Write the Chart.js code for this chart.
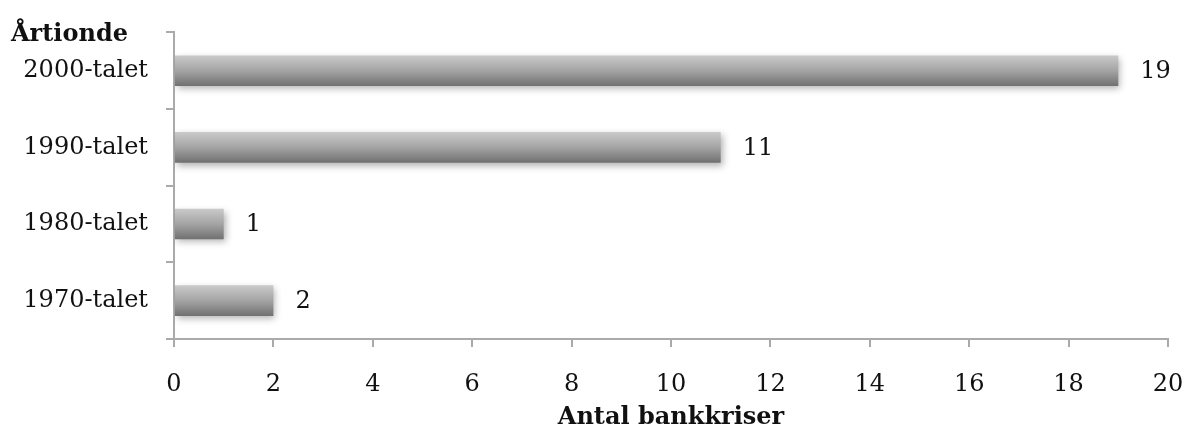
<!DOCTYPE html>
<html><head><meta charset="utf-8">
<script src="https://cdn.jsdelivr.net/npm/chart.js@4/dist/chart.umd.min.js"></script>
<style>html,body{margin:0;padding:0;background:#fff}#wrap{width:1185px;height:432px}</style>
</head><body><div id="wrap"><canvas id="c" width="1185" height="432"></canvas></div>
<script>
const categories = ['2000-talet','1990-talet','1980-talet','1970-talet'];
const values = [19, 11, 1, 2];
const xTicks = [0,2,4,6,8,10,12,14,16,18,20];
const yTitle = 'Årtionde';
const xTitle = 'Antal bankkriser';

const FONT = "'DejaVu Serif', serif";
const AX = '#aaaaaa';
const FS = 24;

function barGradient(c){
  const ch = c.chart;
  const y = ch.scales && ch.scales.y;
  if (!y || c.dataIndex === undefined || !ch.chartArea) return '#999';
  const cy = y.getPixelForValue(c.dataIndex);
  const half = (y.height / categories.length) * 0.2;
  const g = ch.ctx.createLinearGradient(0, cy - half, 0, cy + half);
  g.addColorStop(0, '#cacaca');
  g.addColorStop(0.5, '#a4a4a4');
  g.addColorStop(1, '#707070');
  return g;
}

const shadowPlugin = {
  id: 'shadow',
  beforeDatasetsDraw(chart){
    const ctx = chart.ctx; ctx.save();
    ctx.shadowColor = 'rgba(0,0,0,0.3)';
    ctx.shadowBlur = 7; ctx.shadowOffsetX = 2; ctx.shadowOffsetY = 3;
  },
  afterDatasetsDraw(chart){
    chart.ctx.restore();
    const ctx = chart.ctx;
    const meta = chart.getDatasetMeta(0);
    ctx.save();
    ctx.font = FS + 'px ' + FONT; ctx.fillStyle = '#111';
    ctx.textAlign = 'left'; ctx.textBaseline = 'middle';
    meta.data.forEach((el, i) => { ctx.fillText(String(values[i]), el.x + 22, el.y + 1); });
    ctx.font = 'bold ' + FS + 'px ' + FONT;
    ctx.textBaseline = 'alphabetic';
    ctx.fillText(yTitle, 11, chart.chartArea.top + 9);
    ctx.restore();
  }
};

new Chart(document.getElementById('c'), {
  type: 'bar',
  data: { labels: categories, datasets: [{ data: values, backgroundColor: barGradient, borderWidth: 0, barPercentage: 0.4, categoryPercentage: 1 }] },
  options: {
    indexAxis: 'y', responsive: false, animation: false,
    layout: { padding: { top: 31, right: 0, left: 0, bottom: 0 } },
    plugins: { legend: { display: false }, tooltip: { enabled: false } },
    scales: {
      x: {
        min: 0, max: 20,
        afterBuildTicks(s){ s.ticks = xTicks.map(v => ({value: v})); },
        afterFit(s){ s.height = 93; s.paddingLeft = 0; s.paddingRight = 17; },
        border: { color: AX, width: 2 },
        grid: { drawOnChartArea: false, drawTicks: true, tickLength: 8, color: AX, lineWidth: 2 },
        ticks: { font: { family: FONT, size: FS }, color: '#111', padding: 23 },
        title: { display: true, text: xTitle, font: { family: FONT, size: FS, weight: 'bold' }, color: '#111', padding: { top: 5, bottom: 0 } }
      },
      y: {
        afterFit(s){ s.width = 174; },
        border: { color: AX, width: 2 },
        grid: { drawOnChartArea: false, drawTicks: true, tickLength: 8, color: AX, lineWidth: 2, offset: true },
        ticks: { font: { family: FONT, size: FS }, color: '#111', padding: 18 }
      }
    }
  },
  plugins: [shadowPlugin]
});
</script></body></html>
